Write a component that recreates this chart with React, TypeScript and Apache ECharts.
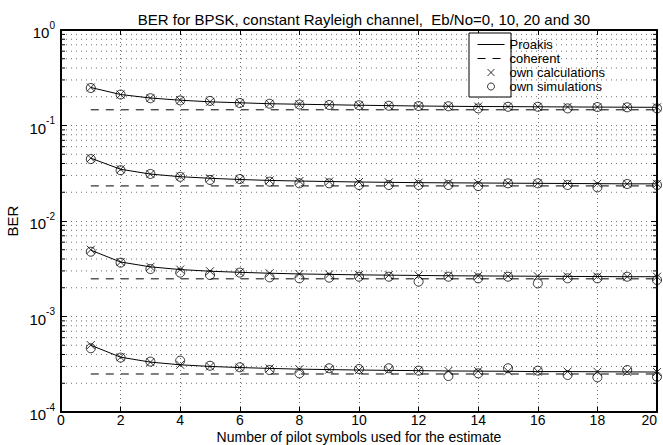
import React, { useEffect, useRef } from "react";
import * as echarts from "echarts";

// ---- data ----
const pilots = [1, 2, 3, 4, 5, 6, 7, 8, 9, 10, 11, 12, 13, 14, 15, 16, 17, 18, 19, 20];

// Proakis (solid lines), Eb/No = 0, 10, 20, 30 dB
const proakis0 = [0.25, 0.211, 0.194, 0.184, 0.177, 0.173, 0.169, 0.167, 0.165, 0.163, 0.1615, 0.160, 0.159, 0.158, 0.1577, 0.157, 0.1564, 0.1559, 0.1554, 0.155];
const proakis10 = [0.0455, 0.0348, 0.031, 0.0291, 0.028, 0.0272, 0.0266, 0.0262, 0.0259, 0.0256, 0.0254, 0.0252, 0.0251, 0.025, 0.0249, 0.0248, 0.0247, 0.0246, 0.0245, 0.0245];
const proakis20 = [0.00495, 0.00372, 0.00331, 0.0031, 0.00298, 0.0029, 0.00284, 0.00279, 0.00276, 0.00273, 0.00271, 0.00269, 0.00267, 0.00266, 0.00265, 0.00264, 0.00263, 0.00262, 0.00261, 0.00261];
const proakis30 = [0.0005, 0.000375, 0.000333, 0.000312, 0.0003, 0.000292, 0.000286, 0.000281, 0.000278, 0.000275, 0.000273, 0.000271, 0.000269, 0.000268, 0.000267, 0.000265, 0.000265, 0.000264, 0.000263, 0.000262];

// coherent (dashed lines)
const coherentX = [1, 20];
const coherentLevels = [0.146, 0.0233, 0.00248, 0.00025];

// own calculations (x markers)
const calc0 = [0.25, 0.211, 0.194, 0.184, 0.177, 0.173, 0.169, 0.167, 0.165, 0.163, 0.1615, 0.160, 0.159, 0.158, 0.1577, 0.157, 0.1564, 0.1559, 0.1554, 0.155];
const calc10 = [0.0455, 0.0348, 0.031, 0.0293, 0.028, 0.0272, 0.0266, 0.0262, 0.0259, 0.0256, 0.0254, 0.0252, 0.0251, 0.025, 0.0249, 0.0248, 0.0247, 0.0246, 0.0245, 0.0245];
const calc20 = [0.005, 0.00372, 0.00331, 0.0031, 0.00298, 0.0029, 0.00284, 0.00279, 0.00276, 0.00273, 0.00271, 0.00269, 0.00267, 0.00266, 0.00265, 0.00264, 0.00263, 0.00262, 0.00261, 0.00261];
const calc30 = [0.000502, 0.000375, 0.000333, 0.000312, 0.0003, 0.000292, 0.000286, 0.000281, 0.000278, 0.000275, 0.000273, 0.000271, 0.000269, 0.000268, 0.000267, 0.000265, 0.000265, 0.000264, 0.000263, 0.000262];

// own simulations (o markers)
const sim0 = [0.247, 0.211, 0.193, 0.183, 0.181, 0.172, 0.169, 0.166, 0.164, 0.163, 0.161, 0.16, 0.159, 0.151, 0.157, 0.157, 0.151, 0.156, 0.155, 0.151];
const sim10 = [0.0445, 0.034, 0.0311, 0.029, 0.0269, 0.0275, 0.0258, 0.0248, 0.0248, 0.0238, 0.0238, 0.0238, 0.0238, 0.0232, 0.0248, 0.0248, 0.0238, 0.0225, 0.0244, 0.0238];
const sim20 = [0.00477, 0.00366, 0.00314, 0.00288, 0.00272, 0.00288, 0.00257, 0.00251, 0.00255, 0.00261, 0.00261, 0.00232, 0.00261, 0.00251, 0.00261, 0.00222, 0.00251, 0.00251, 0.00261, 0.00241];
const sim30 = [0.000465, 0.000371, 0.000337, 0.000345, 0.000305, 0.000294, 0.000275, 0.000254, 0.000287, 0.000282, 0.000287, 0.000271, 0.000238, 0.000254, 0.000287, 0.000271, 0.000244, 0.000231, 0.000275, 0.000234];

// axis ticks
const xTicks = { min: 0, max: 20, interval: 2 };
const yRange = { min: 0.0001, max: 1 };
const decades = [0.0001, 0.001, 0.01, 0.1];
const minorMultipliers = [2, 3, 4, 5, 6, 7, 8, 9];

const TITLE = "BER for BPSK, constant Rayleigh channel,  Eb/No=0, 10, 20 and 30";
const XNAME = "Number of pilot symbols used for the estimate";
const YNAME = "BER";
const LEGEND = ["Proakis", "coherent", "own calculations", "own simulations"];

const FONT = "Liberation Sans";
const FS = 15;
const GRID = "#707070";
const CROSS = "path://M0,0L10,10M10,0L0,10";

export default function App() {
  const ref = useRef<HTMLDivElement>(null);
  useEffect(() => {
    if (!ref.current) return;
    const chart = echarts.init(ref.current, null, { renderer: "svg" });
    const pts = (vals: number[]) => vals.map((v, i) => [pilots[i], v]);
    const minorValues: number[][] = [];
    decades.forEach((d) => minorMultipliers.forEach((m) => minorValues.push([0, m * d])));

    const proakis = [proakis0, proakis10, proakis20, proakis30].map((arr) => ({
      type: "line",
      name: "Proakis",
      data: pts(arr),
      symbol: "none",
      lineStyle: { color: "#000", width: 1 },
      itemStyle: { color: "#000" },
      z: 3,
    }));
    const coherent = coherentLevels.map((lv) => ({
      type: "line",
      name: "coherent",
      data: coherentX.map((x) => [x, lv]),
      symbol: "none",
      lineStyle: { color: "#000", width: 1, type: [8, 7] },
      itemStyle: { color: "#000" },
      z: 3,
    }));
    const calcs = [calc0, calc10, calc20, calc30].map((arr) => ({
      type: "scatter",
      name: "own calculations",
      data: pts(arr),
      symbol: CROSS,
      symbolSize: 8,
      itemStyle: { color: "rgba(0,0,0,0)", borderColor: "#000", borderWidth: 1 },
      z: 4,
    }));
    const sims = [sim0, sim10, sim20, sim30].map((arr) => ({
      type: "scatter",
      name: "own simulations",
      data: pts(arr),
      symbol: "circle",
      symbolSize: 9,
      itemStyle: { color: "rgba(0,0,0,0)", borderColor: "#000", borderWidth: 1 },
      z: 4,
    }));

    const minorGrid = {
      type: "custom",
      name: "minor",
      silent: true,
      xAxisIndex: 0,
      yAxisIndex: 0,
      z: 1,
      data: minorValues,
      renderItem: (_p: any, api: any) => {
        const v = api.value(1);
        const a = api.coord([xTicks.min, v]);
        const b = api.coord([xTicks.max, v]);
        return {
          type: "group",
          children: [
            { type: "line", shape: { x1: a[0], y1: a[1], x2: b[0], y2: b[1] }, style: { stroke: GRID, lineWidth: 1, lineDash: [1, 4] } },
            { type: "line", shape: { x1: a[0], y1: a[1], x2: a[0] + 4, y2: a[1] }, style: { stroke: "#000", lineWidth: 1 } },
            { type: "line", shape: { x1: b[0] - 4, y1: b[1], x2: b[0], y2: b[1] }, style: { stroke: "#000", lineWidth: 1 } },
          ],
        };
      },
    };

    const axisLine = { show: true, onZero: false, lineStyle: { color: "#000", width: 2 } };
    const yLabelRich = {
      b: { fontSize: FS, fontFamily: FONT, color: "#000", lineHeight: 20, verticalAlign: "bottom" },
      s: { fontSize: 10, fontFamily: FONT, color: "#000", lineHeight: 10, verticalAlign: "top" },
    };
    const hideSymbol = { color: "rgba(0,0,0,0)", borderColor: "rgba(0,0,0,0)", borderWidth: 0 };
    const thinSymbol = { color: "rgba(0,0,0,0)", borderColor: "#000", borderWidth: 1 };

    chart.setOption({
      animation: false,
      backgroundColor: "#fff",
      textStyle: { fontFamily: FONT, color: "#000" },
      title: {
        text: TITLE,
        left: 359,
        top: 7,
        textAlign: "center",
        textStyle: { fontSize: FS, fontWeight: "normal", color: "#000", fontFamily: FONT },
      },
      grid: { left: 61, right: 6, top: 30, bottom: 33, containLabel: false, outerBoundsMode: "none" },
      legend: {
        data: [
          { name: LEGEND[0], itemStyle: hideSymbol },
          { name: LEGEND[1], itemStyle: hideSymbol },
          { name: LEGEND[2], itemStyle: thinSymbol },
          { name: LEGEND[3], itemStyle: thinSymbol },
        ],
        orient: "vertical",
        left: 477,
        top: 38,
        padding: 0,
        itemWidth: 27,
        itemHeight: 7,
        itemGap: 1,
        z: 10,
        lineStyle: { width: 1 },
        textStyle: { fontSize: 13, fontFamily: FONT, color: "#000" },
      },
      graphic: [
        {
          type: "rect",
          z: 5,
          shape: { x: 469, y: 33, width: 42, height: 64 },
          style: { fill: "#fff", stroke: "#000", lineWidth: 1 },
        },
      ],
      xAxis: [
        {
          type: "value",
          position: "bottom",
          min: xTicks.min,
          max: xTicks.max,
          interval: xTicks.interval,
          axisLine,
          axisTick: { show: true, inside: true, length: 5, lineStyle: { color: "#000" } },
          axisLabel: { fontSize: 14, lineHeight: 14, fontFamily: FONT, color: "#000", margin: 1, alignMaxLabel: "right" },
          splitLine: { show: true, lineStyle: { color: GRID, width: 1, type: [1, 3] } },
          name: XNAME,
          nameLocation: "middle",
          nameGap: 17,
          nameMoveOverlap: false,
          nameTextStyle: { fontSize: 14, lineHeight: 15, fontFamily: FONT, color: "#000" },
        },
        {
          type: "value",
          position: "top",
          min: xTicks.min,
          max: xTicks.max,
          interval: xTicks.interval,
          axisLine,
          axisTick: { show: true, inside: true, length: 5, lineStyle: { color: "#000" } },
          axisLabel: { show: false },
          splitLine: { show: false },
        },
      ],
      yAxis: [
        {
          type: "log",
          logBase: 10,
          position: "left",
          min: yRange.min,
          max: yRange.max,
          splitNumber: 4,
          axisLine,
          axisTick: { show: true, inside: true, length: 6, lineStyle: { color: "#000" } },
          axisLabel: {
            margin: 6,
            formatter: (v: number) => "{b|10}{s|" + Math.round(Math.log10(v)) + "}",
            rich: yLabelRich,
          },
          splitLine: { show: true, lineStyle: { color: GRID, width: 1, type: [1, 4] } },
          name: YNAME,
          nameLocation: "middle",
          nameGap: 41,
          nameMoveOverlap: false,
          nameTextStyle: { fontSize: FS, fontFamily: FONT, color: "#000" },
        },
        {
          type: "log",
          logBase: 10,
          position: "right",
          min: yRange.min,
          max: yRange.max,
          splitNumber: 4,
          axisLine,
          axisTick: { show: true, inside: true, length: 6, lineStyle: { color: "#000" } },
          axisLabel: { show: false },
          splitLine: { show: false },
        },
      ],
      series: [minorGrid, ...coherent, ...proakis, ...calcs, ...sims],
    } as any);
    return () => chart.dispose();
  }, []);
  return (
    <div
      ref={ref}
      style={{ position: "fixed", left: 0, top: 0, width: 663, height: 445, background: "#fff" }}
    />
  );
}
